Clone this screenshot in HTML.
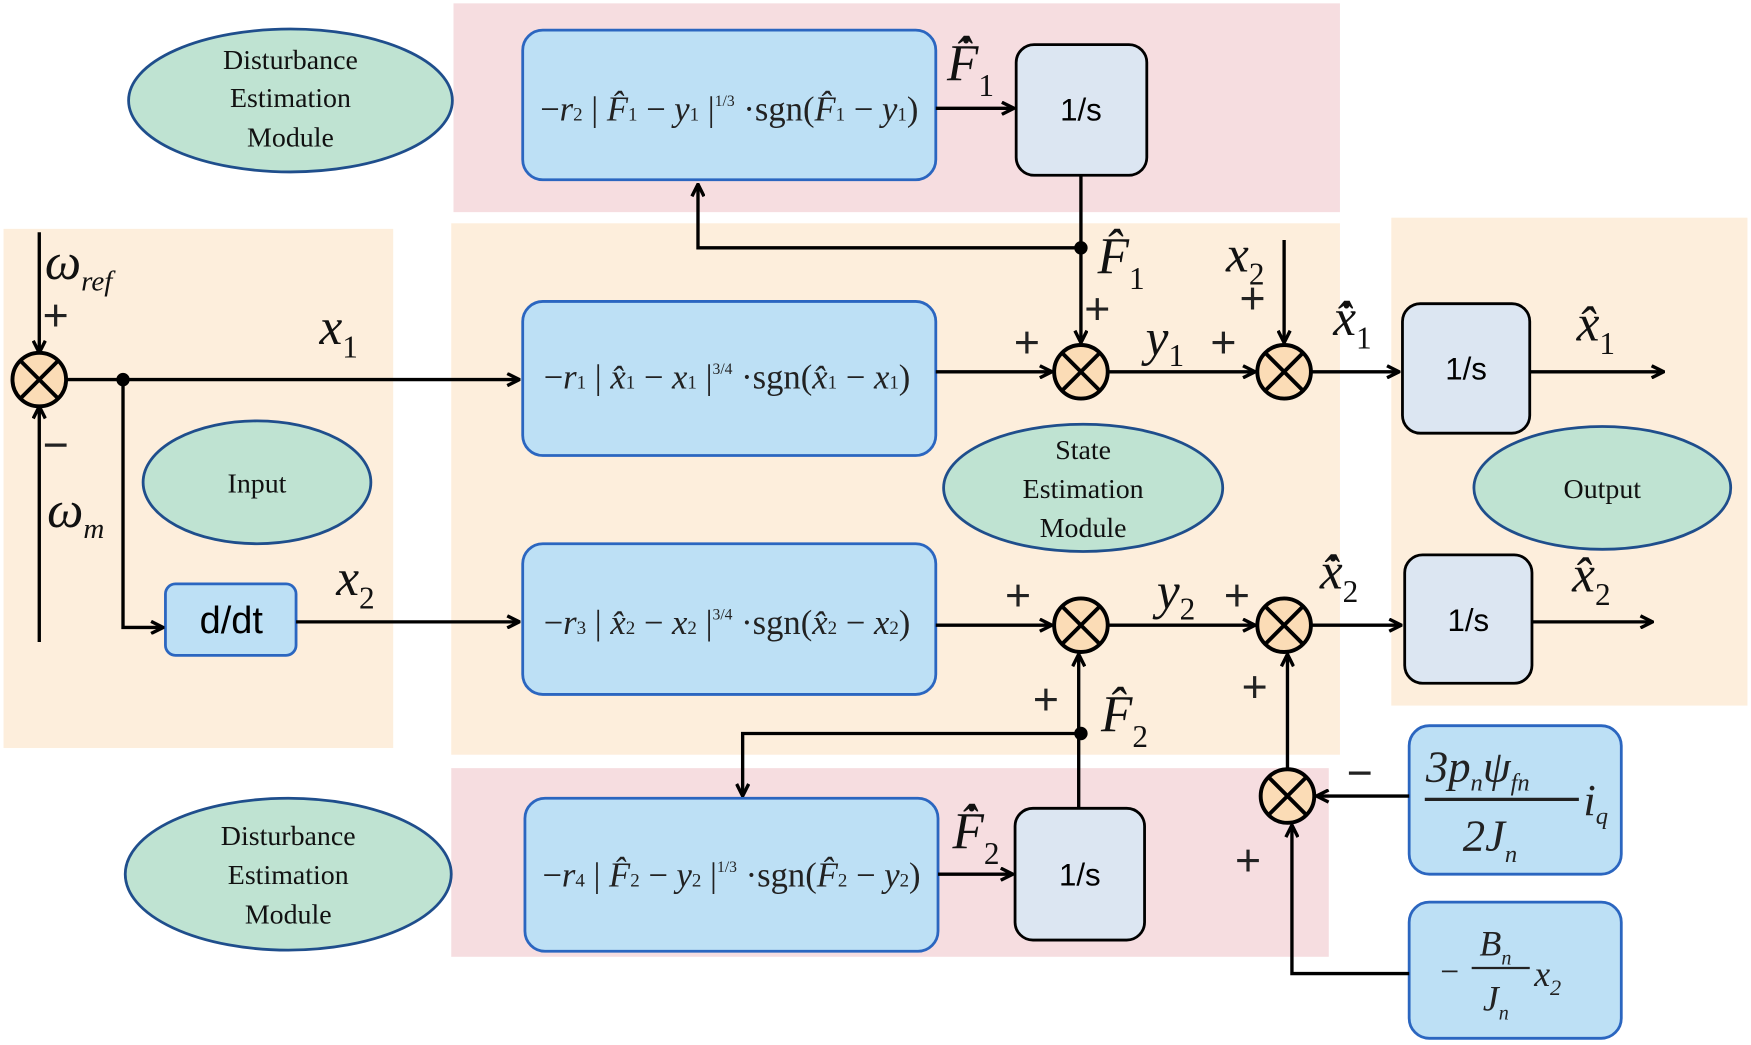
<!DOCTYPE html>
<html><head><meta charset="utf-8"><style>
html,body{margin:0;padding:0;background:#fff}
svg{display:block}
.s{font-family:"Liberation Serif",serif}
.i{font-family:"Liberation Serif",serif;font-style:italic}
.a{font-family:"Liberation Sans",sans-serif}
</style></head><body>
<svg width="1751" height="1045" viewBox="0 0 1568 936" xmlns="http://www.w3.org/2000/svg">
<defs>
<marker id="ar" viewBox="0 0 12 12" refX="11" refY="6" markerWidth="13" markerHeight="13" markerUnits="userSpaceOnUse" orient="auto">
<path d="M1,1 L11,6 L1,11" fill="none" stroke="#000" stroke-width="2.8"/>
</marker>
<g id="sum"><circle r="24" fill="#fbdcb6" stroke="#000" stroke-width="3.5"/><path d="M-17,-17L17,17M17,-17L-17,17" stroke="#000" stroke-width="3.5"/></g>
</defs>
<rect width="1568" height="936" fill="#fff"/>
<rect x="406" y="3" width="794" height="187" fill="#f6dde0"/>
<rect x="404" y="200" width="796" height="476" fill="#fdeedc"/>
<rect x="3" y="205" width="349" height="465" fill="#fdeedc"/>
<rect x="1246" y="195" width="319" height="437" fill="#fdeedc"/>
<rect x="404" y="688" width="786" height="169" fill="#f6dde0"/>
<g fill="#bfe3d2" stroke="#1f4e8c" stroke-width="2.5">
<ellipse cx="260" cy="90" rx="145" ry="64"/>
<ellipse cx="230" cy="432" rx="102" ry="55"/>
<ellipse cx="970" cy="437" rx="125" ry="57"/>
<ellipse cx="1435" cy="437" rx="115" ry="55"/>
<ellipse cx="258" cy="783" rx="146" ry="68"/>
</g>
<g class="s" font-size="25" text-anchor="middle" fill="#111">
<text x="260" y="62">Disturbance</text><text x="260" y="96">Estimation</text><text x="260" y="131">Module</text>
<text x="230" y="441">Input</text>
<text x="970" y="411">State</text><text x="970" y="446">Estimation</text><text x="970" y="481">Module</text>
<text x="1435" y="446">Output</text>
<text x="258" y="757">Disturbance</text><text x="258" y="792">Estimation</text><text x="258" y="827">Module</text>
</g>
<g fill="#bde0f5" stroke="#2b66c0" stroke-width="2.5">
<rect x="468" y="27" width="370" height="134" rx="18"/>
<rect x="468" y="270" width="370" height="138" rx="18"/>
<rect x="468" y="487" width="370" height="135" rx="18"/>
<rect x="470" y="715" width="370" height="137" rx="18"/>
<rect x="1262" y="650" width="190" height="133" rx="18"/>
<rect x="1262" y="808" width="190" height="122" rx="18"/>
<rect x="148" y="523" width="117" height="64" rx="9"/>
</g>
<g fill="#dce6f2" stroke="#000" stroke-width="2.5">
<rect x="910" y="40" width="117" height="117" rx="16"/>
<rect x="1256" y="272" width="114" height="116" rx="16"/>
<rect x="1258" y="497" width="114" height="115" rx="16"/>
<rect x="909" y="724" width="116" height="118" rx="16"/>
</g>
<g class="a" font-size="28" text-anchor="middle" fill="#000">
<text x="968" y="108">1/s</text><text x="1313" y="340">1/s</text><text x="1315" y="565">1/s</text><text x="967" y="793">1/s</text>
<text x="207" y="567" font-size="34">d/dt</text>
</g>
<g class="s" font-size="31" fill="#222" text-anchor="middle">
<text x="653" y="108">−<tspan font-style="italic">r</tspan><tspan font-size="17">2</tspan> | <tspan font-style="italic">F̂</tspan><tspan font-size="17">1</tspan> − <tspan font-style="italic">y</tspan><tspan font-size="17">1</tspan> |<tspan font-size="14" dy="-13">1/3</tspan><tspan dy="13"> ·sgn(</tspan><tspan font-style="italic">F̂</tspan><tspan font-size="17">1</tspan> − <tspan font-style="italic">y</tspan><tspan font-size="17">1</tspan>)</text>
<text x="651" y="348">−<tspan font-style="italic">r</tspan><tspan font-size="17">1</tspan> | <tspan font-style="italic">x̂</tspan><tspan font-size="17">1</tspan> − <tspan font-style="italic">x</tspan><tspan font-size="17">1</tspan> |<tspan font-size="14" dy="-13">3/4</tspan><tspan dy="13"> ·sgn(</tspan><tspan font-style="italic">x̂</tspan><tspan font-size="17">1</tspan> − <tspan font-style="italic">x</tspan><tspan font-size="17">1</tspan>)</text>
<text x="651" y="568">−<tspan font-style="italic">r</tspan><tspan font-size="17">3</tspan> | <tspan font-style="italic">x̂</tspan><tspan font-size="17">2</tspan> − <tspan font-style="italic">x</tspan><tspan font-size="17">2</tspan> |<tspan font-size="14" dy="-13">3/4</tspan><tspan dy="13"> ·sgn(</tspan><tspan font-style="italic">x̂</tspan><tspan font-size="17">2</tspan> − <tspan font-style="italic">x</tspan><tspan font-size="17">2</tspan>)</text>
<text x="655" y="794">−<tspan font-style="italic">r</tspan><tspan font-size="17">4</tspan> | <tspan font-style="italic">F̂</tspan><tspan font-size="17">2</tspan> − <tspan font-style="italic">y</tspan><tspan font-size="17">2</tspan> |<tspan font-size="14" dy="-13">1/3</tspan><tspan dy="13"> ·sgn(</tspan><tspan font-style="italic">F̂</tspan><tspan font-size="17">2</tspan> − <tspan font-style="italic">y</tspan><tspan font-size="17">2</tspan>)</text>
</g>
<g class="i" fill="#222">
<text x="1277" y="700" font-size="40">3<tspan>p</tspan><tspan font-size="22" dy="8">n</tspan><tspan dy="-8">ψ</tspan><tspan font-size="22" dy="8">fn</tspan></text>
<line x1="1276" y1="716" x2="1414" y2="716" stroke="#222" stroke-width="3"/>
<text x="1310" y="762" font-size="40">2J<tspan font-size="22" dy="10">n</tspan></text>
<text x="1418" y="730" font-size="40">i<tspan font-size="22" dy="8">q</tspan></text>
<text x="1290" y="880" font-size="30" font-style="normal">−</text>
<text x="1325" y="856" font-size="32">B<tspan font-size="18" dy="8">n</tspan></text>
<line x1="1318" y1="867" x2="1370" y2="867" stroke="#222" stroke-width="2"/>
<text x="1328" y="905" font-size="32">J<tspan font-size="18" dy="8">n</tspan></text>
<text x="1374" y="883" font-size="32">x<tspan font-size="20" dy="8">2</tspan></text>
</g>
<g fill="none" stroke="#000" stroke-width="3">
<path d="M35,208V316" marker-end="url(#ar)"/>
<path d="M35,575V364" marker-end="url(#ar)"/>
<path d="M59,340H465" marker-end="url(#ar)"/>
<path d="M110,340V562H146" marker-end="url(#ar)"/>
<path d="M265,557H465" marker-end="url(#ar)"/>
<path d="M838,333H942" marker-end="url(#ar)"/>
<path d="M992,333H1124" marker-end="url(#ar)"/>
<path d="M1174,333H1253" marker-end="url(#ar)"/>
<path d="M1370,333H1490" marker-end="url(#ar)"/>
<path d="M838,97H908" marker-end="url(#ar)"/>
<path d="M968,157V307" marker-end="url(#ar)"/>
<path d="M968,222H625V165" marker-end="url(#ar)"/>
<path d="M838,560H942" marker-end="url(#ar)"/>
<path d="M992,560H1124" marker-end="url(#ar)"/>
<path d="M1174,560H1255" marker-end="url(#ar)"/>
<path d="M1372,557H1480" marker-end="url(#ar)"/>
<path d="M966,724V586" marker-end="url(#ar)"/>
<path d="M968,657H665V713" marker-end="url(#ar)"/>
<path d="M840,783H907" marker-end="url(#ar)"/>
<path d="M1150,215V307" marker-end="url(#ar)"/>
<path d="M1153,689V586" marker-end="url(#ar)"/>
<path d="M1262,713H1179" marker-end="url(#ar)"/>
<path d="M1262,872H1157V739" marker-end="url(#ar)"/>
</g>
<g fill="#000"><circle cx="110" cy="340" r="6"/><circle cx="968" cy="222" r="6"/><circle cx="968" cy="657" r="6"/></g>
<use href="#sum" x="35" y="340"/><use href="#sum" x="968" y="333"/><use href="#sum" x="1150" y="333"/>
<use href="#sum" x="968" y="560"/><use href="#sum" x="1150" y="560"/><use href="#sum" x="1153" y="713"/>
<g class="i" fill="#111" font-size="46">
<text x="40" y="250">ω<tspan font-size="26" dy="10">ref</tspan></text>
<text x="42" y="472">ω<tspan font-size="26" dy="10">m</tspan></text>
<text x="286" y="308">x<tspan font-size="28" dy="12" font-style="normal">1</tspan></text>
<text x="301" y="533">x<tspan font-size="28" dy="12" font-style="normal">2</tspan></text>
<text x="848" y="72">F̂̇<tspan font-size="28" dy="14" font-style="normal">1</tspan></text>
<text x="983" y="245">F̂<tspan font-size="28" dy="14" font-style="normal">1</tspan></text>
<text x="1098" y="243">x<tspan font-size="28" dy="12" font-style="normal">2</tspan></text>
<text x="1026" y="318">y<tspan font-size="28" dy="10" font-style="normal">1</tspan></text>
<text x="1194" y="300">x̂̇<tspan font-size="28" dy="12" font-style="normal">1</tspan></text>
<text x="1412" y="305">x̂<tspan font-size="28" dy="12" font-style="normal">1</tspan></text>
<text x="1036" y="545">y<tspan font-size="28" dy="10" font-style="normal">2</tspan></text>
<text x="1182" y="527">x̂̇<tspan font-size="28" dy="12" font-style="normal">2</tspan></text>
<text x="1408" y="530">x̂<tspan font-size="28" dy="12" font-style="normal">2</tspan></text>
<text x="986" y="655">F̂<tspan font-size="28" dy="14" font-style="normal">2</tspan></text>
<text x="853" y="760">F̂̇<tspan font-size="28" dy="14" font-style="normal">2</tspan></text>
</g>
<g class="a" fill="#222" font-size="40">
<text x="38" y="296">+</text><text x="38" y="412">−</text>
<text x="908" y="320">+</text><text x="971" y="290">+</text>
<text x="1084" y="320">+</text><text x="1110" y="281">+</text>
<text x="900" y="547">+</text><text x="1096" y="547">+</text>
<text x="925" y="640">+</text><text x="1112" y="629">+</text>
<text x="1206" y="706">−</text><text x="1106" y="784">+</text>
</g>
</svg>
</body></html>
